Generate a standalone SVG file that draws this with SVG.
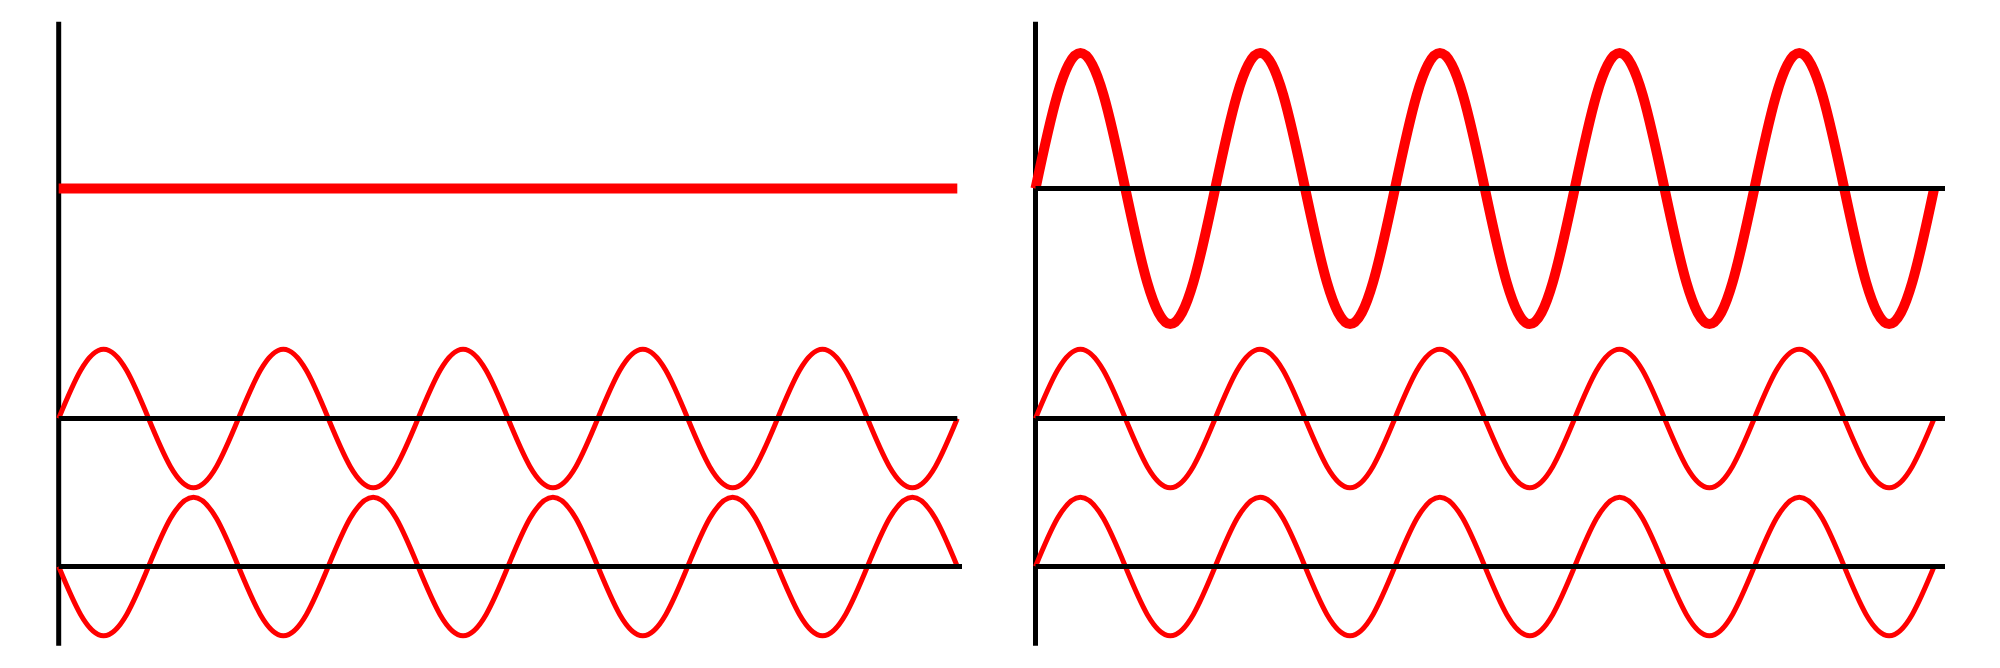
<svg xmlns="http://www.w3.org/2000/svg" width="2000" height="668" viewBox="0 0 2000 668">
  <style>
    .axis { stroke: #000; stroke-width: 5; fill: none; stroke-linecap: butt; }
    .wave { stroke: #ff0000; stroke-width: 5; fill: none; stroke-linecap: butt; }
    .thick { stroke: #ff0000; stroke-width: 10; fill: none; stroke-linecap: butt; }
  </style>
  <defs>
    <path id="sineUp" d="M0,0 c14.65,-35.45 28.67,-69.2 44.93,-69.2 c16.26,0 30.28,33.75 44.93,69.2 c14.65,35.45 28.67,69.2 44.93,69.2 c16.26,0 30.28,-33.75 44.93,-69.2 c14.65,-35.45 28.67,-69.2 44.93,-69.2 c16.26,0 30.28,33.75 44.93,69.2 c14.65,35.45 28.67,69.2 44.93,69.2 c16.26,0 30.28,-33.75 44.93,-69.2 c14.65,-35.45 28.67,-69.2 44.93,-69.2 c16.26,0 30.28,33.75 44.93,69.2 c14.65,35.45 28.67,69.2 44.93,69.2 c16.26,0 30.28,-33.75 44.93,-69.2 c14.65,-35.45 28.67,-69.2 44.93,-69.2 c16.26,0 30.28,33.75 44.93,69.2 c14.65,35.45 28.67,69.2 44.93,69.2 c16.26,0 30.28,-33.75 44.93,-69.2 c14.65,-35.45 28.67,-69.2 44.93,-69.2 c16.26,0 30.28,33.75 44.93,69.2 c14.65,35.45 28.67,69.2 44.93,69.2 c16.26,0 30.28,-33.75 44.93,-69.2"/>
    <path id="sineDown" d="M0,0 c14.65,35.45 28.67,69.2 44.93,69.2 c16.26,0 30.28,-33.75 44.93,-69.2 c14.65,-35.45 28.67,-69.2 44.93,-69.2 c16.26,0 30.28,33.75 44.93,69.2 c14.65,35.45 28.67,69.2 44.93,69.2 c16.26,0 30.28,-33.75 44.93,-69.2 c14.65,-35.45 28.67,-69.2 44.93,-69.2 c16.26,0 30.28,33.75 44.93,69.2 c14.65,35.45 28.67,69.2 44.93,69.2 c16.26,0 30.28,-33.75 44.93,-69.2 c14.65,-35.45 28.67,-69.2 44.93,-69.2 c16.26,0 30.28,33.75 44.93,69.2 c14.65,35.45 28.67,69.2 44.93,69.2 c16.26,0 30.28,-33.75 44.93,-69.2 c14.65,-35.45 28.67,-69.2 44.93,-69.2 c16.26,0 30.28,33.75 44.93,69.2 c14.65,35.45 28.67,69.2 44.93,69.2 c16.26,0 30.28,-33.75 44.93,-69.2 c14.65,-35.45 28.67,-69.2 44.93,-69.2 c16.26,0 30.28,33.75 44.93,69.2"/>
    <path id="sineBig" d="M0,0 c14.65,-69.42 28.67,-135.5 44.93,-135.5 c16.26,0 30.28,66.08 44.93,135.5 c14.65,69.42 28.67,135.5 44.93,135.5 c16.26,0 30.28,-66.08 44.93,-135.5 c14.65,-69.42 28.67,-135.5 44.93,-135.5 c16.26,0 30.28,66.08 44.93,135.5 c14.65,69.42 28.67,135.5 44.93,135.5 c16.26,0 30.28,-66.08 44.93,-135.5 c14.65,-69.42 28.67,-135.5 44.93,-135.5 c16.26,0 30.28,66.08 44.93,135.5 c14.65,69.42 28.67,135.5 44.93,135.5 c16.26,0 30.28,-66.08 44.93,-135.5 c14.65,-69.42 28.67,-135.5 44.93,-135.5 c16.26,0 30.28,66.08 44.93,135.5 c14.65,69.42 28.67,135.5 44.93,135.5 c16.26,0 30.28,-66.08 44.93,-135.5 c14.65,-69.42 28.67,-135.5 44.93,-135.5 c16.26,0 30.28,66.08 44.93,135.5 c14.65,69.42 28.67,135.5 44.93,135.5 c16.26,0 30.28,-66.08 44.93,-135.5"/>
  </defs>

  <g id="left-panel">
    <line class="axis" x1="58.7" y1="21.7" x2="58.7" y2="645.7"/>
    <line id="left-sum" class="thick" x1="58.7" y1="188.6" x2="957.3" y2="188.6"/>
    <use id="left-wave-a" class="wave" href="#sineUp" transform="translate(58.7,418.5)"/>
    <use id="left-wave-b" class="wave" href="#sineDown" transform="translate(58.7,566.5)"/>
    <line class="axis" x1="58.7" y1="418.5" x2="957.3" y2="418.5"/>
    <line class="axis" x1="58.7" y1="566.5" x2="962" y2="566.5"/>
  </g>

  <g id="right-panel">
    <line class="axis" x1="1035.5" y1="21.7" x2="1035.5" y2="645.7"/>
    <use id="right-sum" class="thick" href="#sineBig" transform="translate(1035.5,188.6)"/>
    <use id="right-wave-a" class="wave" href="#sineUp" transform="translate(1035.5,418.5)"/>
    <use id="right-wave-b" class="wave" href="#sineUp" transform="translate(1035.5,566.5)"/>
    <line class="axis" x1="1035.5" y1="188.6" x2="1945" y2="188.6"/>
    <line class="axis" x1="1035.5" y1="418.5" x2="1945" y2="418.5"/>
    <line class="axis" x1="1035.5" y1="566.5" x2="1945" y2="566.5"/>
  </g>
</svg>
